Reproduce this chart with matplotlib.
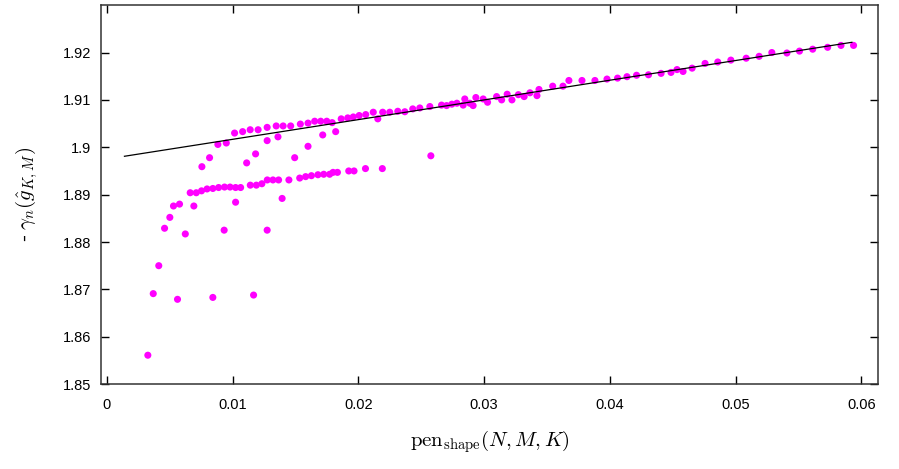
import matplotlib
matplotlib.use("Agg")
import matplotlib.pyplot as plt
from matplotlib.ticker import FixedLocator

plt.rcParams['mathtext.fontset'] = 'cm'
plt.rcParams['font.family'] = ['Liberation Sans', 'DejaVu Sans']

# upper branch (close to fitted line)
upper_x = [0.01015, 0.01079, 0.01139, 0.01202, 0.01274, 0.01346, 0.01401, 0.01461, 0.01538, 0.01599,
           0.01652, 0.01700, 0.01748, 0.01791, 0.01863, 0.01915, 0.01959, 0.02006, 0.02058, 0.02154,
           0.02118, 0.02193, 0.02249, 0.02313, 0.02369, 0.02432, 0.02488, 0.02568, 0.02661, 0.02701,
           0.02743, 0.02783, 0.02846, 0.02886, 0.02934, 0.02992, 0.03027, 0.03099, 0.03139, 0.03183,
           0.03221, 0.03272, 0.03318, 0.03364, 0.03420, 0.03436, 0.03545, 0.03627, 0.03674, 0.03778,
           0.03881, 0.03977, 0.04061, 0.04136, 0.04212, 0.04307, 0.04407, 0.04486, 0.04534, 0.04582,
           0.04654, 0.04757, 0.04858, 0.04962, 0.05084, 0.05187, 0.05288, 0.05408, 0.05508, 0.05613,
           0.05732, 0.05838, 0.05938, 0.02833, 0.02912]
upper_y = [1.9030, 1.9033, 1.9037, 1.9037, 1.9042, 1.9045, 1.9045, 1.9045, 1.9049, 1.9051,
           1.9055, 1.9055, 1.9055, 1.9052, 1.9060, 1.9062, 1.9064, 1.9067, 1.9069, 1.9060,
           1.9074, 1.9074, 1.9074, 1.9076, 1.9075, 1.9081, 1.9083, 1.9086, 1.9089, 1.9088,
           1.9091, 1.9093, 1.9102, 1.9093, 1.9105, 1.9102, 1.9095, 1.9107, 1.9100, 1.9112,
           1.9100, 1.9111, 1.9107, 1.9115, 1.9109, 1.9122, 1.9129, 1.9129, 1.9141, 1.9141,
           1.9141, 1.9144, 1.9146, 1.9149, 1.9152, 1.9153, 1.9156, 1.9158, 1.9164, 1.9160,
           1.9167, 1.9177, 1.9180, 1.9184, 1.9188, 1.9192, 1.9200, 1.9199, 1.9203, 1.9207,
           1.9211, 1.9215, 1.9215, 1.9089, 1.9088]

# rising branch and middle scattered points
mid_x = [0.00755, 0.00816, 0.00882, 0.00949, 0.01023, 0.01111, 0.01182, 0.01274, 0.01360, 0.01393,
         0.01493, 0.01599, 0.01716, 0.01819, 0.02576]
mid_y = [1.8959, 1.8978, 1.9006, 1.9009, 1.8884, 1.8967, 1.8986, 1.9014, 1.9022, 1.8892,
         1.8978, 1.9002, 1.9026, 1.9033, 1.8982]

# lower branch (~1.89)
low_x = [0.00458, 0.00500, 0.00529, 0.00577, 0.00623, 0.00691, 0.00662, 0.00710, 0.00752, 0.00796,
         0.00842, 0.00888, 0.00935, 0.00979, 0.01023, 0.01063, 0.01140, 0.01188, 0.01232, 0.01275,
         0.01320, 0.01365, 0.01447, 0.01533, 0.01580, 0.01626, 0.01678, 0.01724, 0.01771, 0.01798,
         0.01833, 0.01923, 0.01965, 0.02056, 0.02190]
low_y = [1.8829, 1.8852, 1.8876, 1.8880, 1.8817, 1.8876, 1.8904, 1.8904, 1.8908, 1.8912,
         1.8913, 1.8915, 1.8916, 1.8916, 1.8915, 1.8915, 1.8920, 1.8920, 1.8923, 1.8931,
         1.8931, 1.8931, 1.8931, 1.8935, 1.8938, 1.8940, 1.8942, 1.8943, 1.8943, 1.8947,
         1.8947, 1.8950, 1.8950, 1.8955, 1.8955]

# isolated low points
iso_x = [0.00325, 0.00368, 0.00412, 0.00561, 0.00842, 0.01166, 0.00932, 0.01274]
iso_y = [1.8561, 1.8691, 1.8750, 1.8679, 1.8683, 1.8688, 1.8825, 1.8825]

# fitted line
fit_x = [0.00139, 0.05925]
fit_y = [1.8981, 1.92216]

xticks = [0, 0.01, 0.02, 0.03, 0.04, 0.05, 0.06]
xtick_labels = ["0", "0.01", "0.02", "0.03", "0.04", "0.05", "0.06"]
yticks = [1.85, 1.86, 1.87, 1.88, 1.89, 1.90, 1.91, 1.92]
ytick_labels = ["1.85", "1.86", "1.87", "1.88", "1.89", "1.9", "1.91", "1.92"]

fig = plt.figure(figsize=(8.99, 4.69), dpi=100)
ax = fig.add_axes([0.112, 0.181, 0.865, 0.808])

col = '#ff00ff'
for xs, ys in [(upper_x, upper_y), (mid_x, mid_y), (low_x, low_y), (iso_x, iso_y)]:
    ax.scatter(xs, ys, s=26, color=col, edgecolors='none', zorder=2)
ax.plot(fit_x, fit_y, color='black', lw=0.9, zorder=3)

ax.set_xlim(-0.0005, 0.06135)
ax.set_ylim(1.85, 1.93)
ax.xaxis.set_major_locator(FixedLocator(xticks))
ax.set_xticklabels(xtick_labels)
ax.yaxis.set_major_locator(FixedLocator(yticks))
ax.set_yticklabels(ytick_labels)
ax.tick_params(direction='in', length=6, width=1, top=True, right=True,
               labelsize=10.5, colors='black')
ax.tick_params(axis='x', pad=10)
ax.tick_params(axis='y', pad=7)
for s in ax.spines.values():
    s.set_linewidth(1.1)
    s.set_color('#333333')

ax.set_xlabel(r'$\mathrm{pen}_{\mathrm{shape}}(N,M,K)$', fontsize=15, labelpad=12)
ax.set_ylabel(r'- $\gamma_n(\hat{g}_{K,M})$', fontsize=15, labelpad=16)

fig.savefig('out.png', dpi=100)
